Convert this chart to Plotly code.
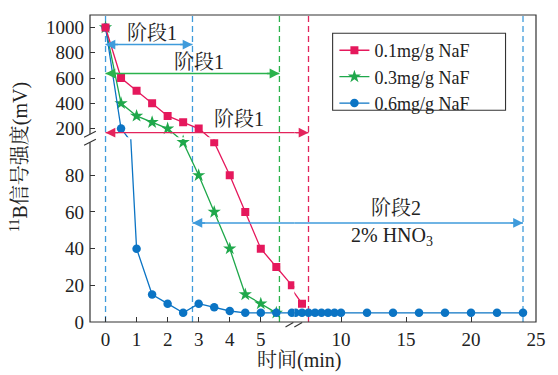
import plotly.graph_objects as go

# ---------------- data ----------------
series_names = ["0.1mg/g NaF", "0.3mg/g NaF", "0.6mg/g NaF"]

time_01 = [0, 0.5, 1, 1.5, 2, 2.5, 3, 3.5, 4, 4.5, 5, 5.5, 6, 7]
signal_01 = [1000, 600, 500, 400, 300, 250, 200, 98, 80, 60, 40, 30, 20, 10]

time_03 = [0, 0.5, 1, 1.5, 2, 2.5, 3, 3.5, 4, 4.5, 5, 5.5]
signal_03 = [1000, 400, 300, 250, 200, 98, 80, 60, 40, 15, 10, 5]

time_06 = [0, 0.5, 1, 1.5, 2, 2.5, 3, 3.5, 4, 4.5, 5, 5.5, 6, 6.5, 7, 7.5,
           8, 8.5, 9, 9.5, 10, 12, 14, 16, 18, 20, 22, 24]
signal_06 = [1000, 200, 40, 15, 10, 5, 10, 8, 6, 5, 5, 5, 5, 5, 5, 5,
             5, 5, 5, 5, 5, 5, 5, 5, 5, 5, 5, 5]

x_ticks_left = [0, 1, 2, 3, 4, 5]
x_ticks_right = [10, 15, 20, 25]
y_ticks_low = [0, 20, 40, 60, 80]
y_ticks_high = [200, 400, 600, 800, 1000]

# phase boundaries (min)
blue_phase1_end = 2.8
green_phase1_end = 5.6
red_phase1_end = 7.5
blue_phase2_end = 24

# ---------------- style ----------------
RED, GREEN, BLUE = "#E5185C", "#1FA84B", "#0B74C4"
DRED, DGREEN, DBLUE = "#E3245C", "#2BB24C", "#3F9BDB"
AX = "#333333"
TXT = "#222222"
FONT = "Liberation Serif, Noto Serif CJK SC, Noto Sans CJK SC, serif"

W_PX, H_PX = 454, 307          # plot area size
L_RANGE = [-0.5, 6.08]
R_RANGE = [6.41, 25]
XB = 208 / 454                  # x break position (paper)
Y_LOW_TOP, Y_HIGH_BOT = 0.595, 0.602
LOW_RANGE = [0, 99.6]
HIGH_RANGE = [132, 1099]
LEG_BOX = dict(x0=0.544, x1=0.9317, y0=0.6896, y1=0.9404)


def axis_for(t):
    return "x" if t <= L_RANGE[1] else "x2"


fig = go.Figure()
panels = [("x", "y"), ("x2", "y"), ("x", "y2"), ("x2", "y2")]

series = [
    (series_names[1], time_03, signal_03, GREEN, "star", 10, 2),
    (series_names[2], time_06, signal_06, BLUE, "circle", 8.5, 3),
    (series_names[0], time_01, signal_01, RED, "square", 8, 1),
]
for name, t, v, col, sym, size, rank in series:
    for i, (xa, ya) in enumerate(panels):
        fig.add_trace(go.Scatter(
            x=t, y=v, mode="lines+markers", name=name, xaxis=xa, yaxis=ya,
            line=dict(color=col, width=1.3),
            marker=dict(symbol=sym, size=size, color=col, line=dict(width=0)),
            showlegend=(i == 0), legendrank=rank, hoverinfo="skip"))

# dashed phase boundaries
for t, col in [(0, DBLUE), (blue_phase1_end, DBLUE), (green_phase1_end, DGREEN),
               (red_phase1_end, DRED), (blue_phase2_end, DBLUE)]:
    fig.add_shape(type="line", xref=axis_for(t), yref="paper", x0=t, x1=t, y0=0, y1=1,
                  line=dict(color=col, width=1.3, dash="6px,4px"), layer="below")

# phase arrows
phase_arrows = [
    (0, blue_phase1_end, 865, "y2", DBLUE, "阶段1", 1.5, 12),
    (0, green_phase1_end, 636, "y2", DGREEN, "阶段1", 3.0, 12),
    (0, red_phase1_end, 168, "y2", DRED, "阶段1", 4.3, 14),
    (blue_phase1_end, blue_phase2_end, 54, "y", DBLUE, "阶段2", 14.2, 15),
]
for t0, t1, lvl, ya, col, label, lt, shift in phase_arrows:
    for xa in ("x", "x2"):
        fig.add_trace(go.Scatter(x=[t0, t1], y=[lvl, lvl], mode="lines", xaxis=xa, yaxis=ya,
                                 line=dict(color=col, width=1.4), showlegend=False,
                                 hoverinfo="skip"))
    for t, dx in ((t0, 14), (t1, -14)):
        fig.add_annotation(x=t, y=lvl, xref=axis_for(t), yref=ya, ax=dx, ay=0, text="",
                           showarrow=True, arrowhead=2, arrowsize=1.4, arrowwidth=1.4,
                           arrowcolor=col)
    fig.add_annotation(x=lt, y=lvl, xref=axis_for(lt), yref=ya, yshift=shift, text=label,
                       xanchor="center", yanchor="middle", showarrow=False,
                       font=dict(family=FONT, size=20, color=TXT))

fig.add_annotation(x=13.9, y=54, xref="x2", yref="y", yshift=-14,
                   text="2% HNO<sub>3</sub>", showarrow=False,
                   xanchor="center", yanchor="middle",
                   font=dict(family=FONT, size=20, color=TXT))

# axis titles
fig.add_annotation(xref="paper", yref="paper", x=0.469, y=-0.1245, text="时间(min)",
                   xanchor="center", yanchor="middle", showarrow=False,
                   font=dict(family=FONT, size=20, color=TXT))
fig.add_annotation(xref="paper", yref="paper", x=-0.158, y=0.536, textangle=-90,
                   xanchor="center", yanchor="middle",
                   text="<sup>11</sup>B信号强度(mV)", showarrow=False,
                   font=dict(family=FONT, size=20, color=TXT))

# frame
fig.add_shape(type="rect", xref="paper", yref="paper", x0=0, x1=1, y0=0, y1=1,
              line=dict(color=AX, width=1.2), layer="above")
# legend frame
fig.add_shape(type="rect", xref="paper", yref="paper", **LEG_BOX,
              line=dict(color=AX, width=1.1), fillcolor="white", layer="above")


def px(dx):
    return dx / W_PX


def py(dy):
    return dy / H_PX


# y-axis break marks
yb = (Y_LOW_TOP + Y_HIGH_BOT) / 2
fig.add_shape(type="line", xref="paper", yref="paper", x0=0, x1=0,
              y0=yb - py(4), y1=yb + py(4), line=dict(color="white", width=3), layer="above")
for off in (-4, 4):
    fig.add_shape(type="line", xref="paper", yref="paper",
                  x0=-px(6), x1=px(6), y0=yb + py(off - 3), y1=yb + py(off + 3),
                  line=dict(color=AX, width=1.1), layer="above")
# x-axis break marks
for off in (-5, 4):
    fig.add_shape(type="line", xref="paper", yref="paper",
                  x0=XB + px(off - 4), x1=XB + px(off + 4), y0=-py(5), y1=-py(0.5),
                  line=dict(color=AX, width=1.1), layer="above")

axis_common = dict(showgrid=False, zeroline=False, showline=False, ticks="inside",
                   ticklen=5, tickwidth=1, tickcolor=AX,
                   tickfont=dict(family=FONT, size=19, color=TXT))

fig.update_layout(
    width=558, height=375,
    margin=dict(l=90, r=14, t=15, b=53, pad=0),
    paper_bgcolor="white", plot_bgcolor="white",
    font=dict(family=FONT, color=TXT),
    xaxis=dict(domain=[0, XB], range=L_RANGE, tickvals=x_ticks_left, anchor="y",
               ticklabelstandoff=4, **axis_common),
    xaxis2=dict(domain=[XB, 1], range=R_RANGE, tickvals=x_ticks_right, anchor="y",
                ticklabelstandoff=4, **axis_common),
    yaxis=dict(domain=[0, Y_LOW_TOP], range=LOW_RANGE, tickvals=y_ticks_low, anchor="x",
               ticklabelstandoff=5, **axis_common),
    yaxis2=dict(domain=[Y_HIGH_BOT, 1], range=HIGH_RANGE, tickvals=y_ticks_high,
                anchor="x", ticklabelstandoff=5, **axis_common),
    legend=dict(x=LEG_BOX["x0"] + 0.004, y=LEG_BOX["y1"] + 0.004,
                xanchor="left", yanchor="top",
                bgcolor="rgba(0,0,0,0)", borderwidth=0,
                font=dict(family=FONT, size=18, color=TXT), tracegroupgap=0),
    showlegend=True,
)

fig.write_html("out.html", config={"displayModeBar": False},
               post_script="document.body.style.margin='0';document.body.style.overflow='hidden';")
